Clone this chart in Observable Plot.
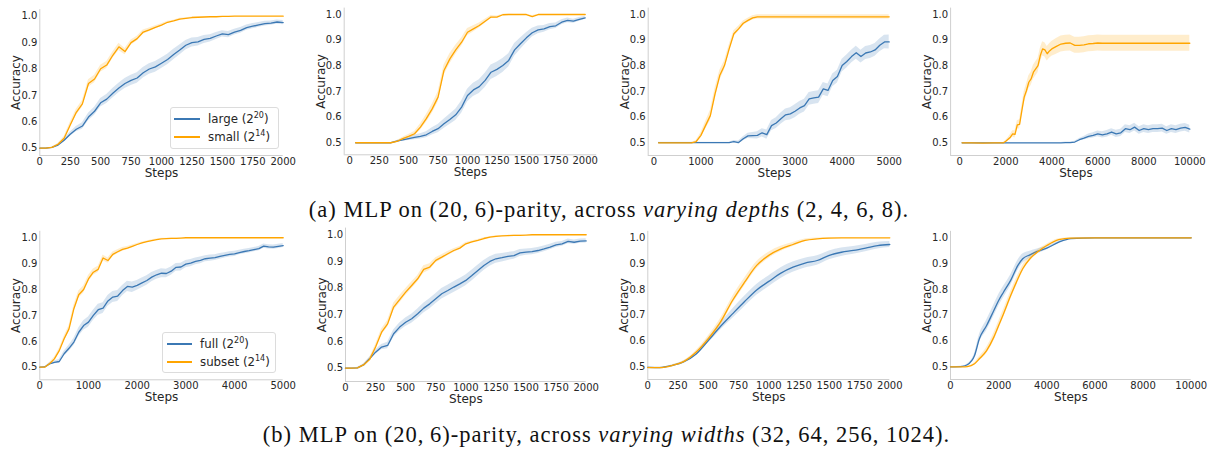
<!DOCTYPE html>
<html><head><meta charset="utf-8">
<script src="https://cdn.jsdelivr.net/npm/d3@7"></script>
<script src="https://cdn.jsdelivr.net/npm/@observablehq/plot@0.6"></script>
<style>
body{margin:0;background:#fff;}
#root{position:relative;width:1210px;height:450px;overflow:hidden;font-family:"DejaVu Sans",sans-serif;background:#fff;}
.panel{position:absolute;}
.panel svg{overflow:visible;}
.cap{position:absolute;font-family:"Liberation Serif",serif;font-size:22.5px;letter-spacing:1px;color:#111;white-space:nowrap;transform:translate(-50%,-50%);}
.legend{position:absolute;border:1px solid #dcdcdc;border-radius:3px;background:rgba(255,255,255,0.85);box-sizing:border-box;}
.lg-line{position:absolute;height:2px;}
.lg-text{position:absolute;font-family:"DejaVu Sans",sans-serif;font-size:11.8px;color:#262626;white-space:nowrap;transform:translateY(-50%);line-height:1;}
.lg-text sup{font-size:8px;vertical-align:5px;}
</style></head><body><div id="root"></div>
<script>
// ---------------- DATA ----------------
const blueColor = "#3b78b4";
const orangeColor = "#ffa500";
const yTicks = [0.5, 0.6, 0.7, 0.8, 0.9, 1.0];

const legendA = ["large (2", "20", ")", "small (2", "14", ")"];
const legendB = ["full (2", "20", ")", "subset (2", "14", ")"];
const captionA = "(a) MLP on (20,\u20096)-parity, across <i>varying depths</i> (2, 4, 6, 8).";
const captionB = "(b) MLP on (20,\u20096)-parity, across <i>varying widths</i> (32, 64, 256, 1024).";

// (a) depth 2
const a1Ticks = [0, 250, 500, 750, 1000, 1250, 1500, 1750, 2000];
const a1Steps = [0,50,100,150,200,250,300,350,400,450,500,550,600,650,700,750,800,850,900,950,1000,1050,1100,1150,1200,1250,1300,1350,1400,1450,1500,1550,1600,1650,1700,1750,1800,1850,1900,1950,2000];
const a1Large = [0.500,0.500,0.503,0.512,0.530,0.553,0.572,0.584,0.618,0.640,0.672,0.686,0.708,0.728,0.745,0.757,0.766,0.786,0.800,0.808,0.822,0.836,0.855,0.872,0.890,0.900,0.903,0.912,0.916,0.925,0.933,0.930,0.940,0.946,0.957,0.962,0.967,0.972,0.974,0.978,0.976];
const a1LargeSd = [0,0,0.002,0.004,0.006,0.008,0.01,0.012,0.014,0.015,0.016,0.017,0.018,0.018,0.019,0.019,0.02,0.02,0.02,0.02,0.02,0.02,0.02,0.019,0.018,0.017,0.016,0.015,0.014,0.013,0.012,0.012,0.011,0.011,0.01,0.01,0.009,0.009,0.008,0.008,0.008];
const a1Small = [0.500,0.500,0.503,0.515,0.538,0.588,0.636,0.668,0.745,0.762,0.801,0.815,0.852,0.884,0.866,0.900,0.915,0.940,0.948,0.958,0.966,0.977,0.982,0.989,0.992,0.995,0.996,0.997,0.998,0.998,0.999,0.999,1.0,1.0,1.0,1.0,1.0,1.0,1.0,1.0,1.0];
const a1SmallSd = [0,0,0.001,0.003,0.006,0.01,0.012,0.013,0.014,0.014,0.013,0.013,0.012,0.014,0.012,0.01,0.009,0.008,0.007,0.006,0.005,0.004,0.003,0.003,0.002,0.002,0.001,0.001,0.001,0.001,0,0,0,0,0,0,0,0,0,0,0];

// (a) depth 4
const a2Ticks = [0, 250, 500, 750, 1000, 1250, 1500, 1750, 2000];
const a2Steps = [50,100,150,200,250,300,350,400,450,500,550,600,650,700,750,800,850,900,950,1000,1050,1100,1150,1200,1250,1300,1350,1400,1450,1500,1550,1600,1650,1700,1750,1800,1850,1900,1950,2000];
const a2Large = [0.5,0.5,0.5,0.5,0.5,0.5,0.5,0.506,0.511,0.516,0.521,0.525,0.531,0.544,0.555,0.574,0.591,0.609,0.639,0.684,0.706,0.719,0.743,0.775,0.786,0.801,0.821,0.862,0.886,0.909,0.929,0.940,0.944,0.953,0.956,0.970,0.977,0.974,0.981,0.987];
const a2LargeSd = [0,0,0,0,0,0,0,0.003,0.005,0.007,0.009,0.01,0.012,0.014,0.016,0.018,0.02,0.022,0.024,0.025,0.026,0.027,0.028,0.028,0.028,0.027,0.026,0.025,0.022,0.02,0.017,0.015,0.013,0.012,0.011,0.01,0.009,0.008,0.007,0.006];
const a2Small = [0.5,0.5,0.5,0.5,0.5,0.5,0.5,0.505,0.516,0.525,0.535,0.561,0.594,0.632,0.678,0.782,0.827,0.862,0.892,0.931,0.944,0.957,0.974,0.990,0.990,0.999,1.0,1.0,1.0,1.0,0.992,1.0,1.0,1.0,1.0,1.0,1.0,1.0,1.0,1.0];
const a2SmallSd = [0,0,0,0,0,0,0,0.003,0.005,0.007,0.009,0.012,0.015,0.018,0.02,0.02,0.02,0.018,0.016,0.014,0.012,0.01,0.008,0.006,0.004,0.002,0.001,0,0,0,0.004,0,0,0,0,0,0,0,0,0];

// (a) depth 6
const a3Ticks = [0, 1000, 2000, 3000, 4000, 5000];
const a3Steps = [100,200,300,400,500,600,700,800,900,1000,1100,1200,1300,1400,1500,1600,1700,1800,1900,2000,2100,2200,2300,2400,2500,2600,2700,2800,2900,3000,3100,3200,3300,3400,3500,3600,3700,3800,3900,4000,4100,4200,4300,4400,4500,4600,4700,4800,4900,5000];
const a3Large = [0.501,0.501,0.501,0.501,0.501,0.501,0.501,0.501,0.501,0.501,0.501,0.501,0.501,0.501,0.501,0.501,0.505,0.501,0.516,0.527,0.528,0.529,0.539,0.532,0.567,0.577,0.594,0.609,0.613,0.623,0.636,0.645,0.671,0.675,0.678,0.710,0.704,0.743,0.758,0.801,0.817,0.836,0.851,0.836,0.850,0.854,0.862,0.880,0.893,0.893];
const a3LargeSd = [0.001,0.001,0.001,0.001,0.001,0.001,0.001,0.001,0.001,0.001,0.001,0.001,0.001,0.001,0.001,0.001,0.004,0.006,0.008,0.01,0.012,0.014,0.016,0.018,0.02,0.021,0.022,0.023,0.024,0.025,0.025,0.025,0.025,0.025,0.025,0.025,0.025,0.025,0.025,0.025,0.025,0.025,0.025,0.025,0.025,0.025,0.025,0.025,0.026,0.027];
const a3Small = [0.5,0.5,0.5,0.5,0.5,0.5,0.5,0.5,0.505,0.529,0.568,0.606,0.691,0.762,0.801,0.866,0.925,0.944,0.966,0.977,0.987,0.991,0.991,0.991,0.991,0.991,0.991,0.991,0.991,0.991,0.991,0.991,0.991,0.991,0.991,0.991,0.991,0.991,0.991,0.991,0.991,0.991,0.991,0.991,0.991,0.991,0.991,0.991,0.991,0.991];
const a3SmallSd = [0.001,0.001,0.001,0.001,0.001,0.001,0.001,0.001,0.004,0.01,0.015,0.02,0.022,0.02,0.018,0.015,0.012,0.01,0.009,0.008,0.008,0.008,0.008,0.008,0.008,0.008,0.008,0.008,0.008,0.008,0.008,0.008,0.008,0.008,0.008,0.008,0.008,0.008,0.008,0.008,0.008,0.008,0.008,0.008,0.008,0.008,0.008,0.008,0.008,0.008];

// (a) depth 8
const a4Ticks = [0, 2000, 4000, 6000, 8000, 10000];
const a4Steps = [100,500,1000,1500,1900,2000,2100,2200,2300,2400,2500,2600,2700,2800,2900,3000,3100,3200,3300,3400,3500,3600,3700,3800,3900,4000,4200,4400,4600,4800,5000,5200,5400,5600,5800,6000,6200,6400,6600,6800,7000,7200,7400,7600,7800,8000,8200,8400,8600,8800,9000,9200,9400,9600,9800,10000];
const a4Large = [0.5,0.5,0.5,0.5,0.5,0.5,0.5,0.5,0.5,0.5,0.5,0.5,0.5,0.5,0.5,0.5,0.5,0.5,0.5,0.5,0.5,0.5,0.5,0.5,0.5,0.5,0.500,0.500,0.501,0.501,0.503,0.512,0.518,0.525,0.529,0.535,0.531,0.535,0.542,0.535,0.539,0.555,0.551,0.561,0.548,0.555,0.551,0.555,0.555,0.557,0.548,0.555,0.551,0.557,0.560,0.553];
const a4LargeSd = [0.001,0.001,0.001,0.001,0.001,0.001,0.001,0.001,0.001,0.001,0.001,0.001,0.001,0.001,0.001,0.001,0.001,0.001,0.001,0.001,0.001,0.001,0.001,0.001,0.001,0.001,0.001,0.001,0.002,0.002,0.003,0.005,0.007,0.009,0.01,0.011,0.012,0.013,0.013,0.014,0.014,0.015,0.015,0.015,0.015,0.015,0.015,0.015,0.015,0.015,0.015,0.015,0.015,0.015,0.015,0.015];
const a4Small = [0.500,0.500,0.499,0.500,0.500,0.506,0.514,0.522,0.535,0.533,0.570,0.572,0.626,0.678,0.704,0.736,0.749,0.775,0.788,0.801,0.840,0.866,0.862,0.847,0.858,0.866,0.876,0.885,0.888,0.889,0.880,0.880,0.882,0.886,0.887,0.889,0.888,0.888,0.888,0.888,0.888,0.888,0.888,0.888,0.888,0.888,0.888,0.888,0.888,0.888,0.888,0.888,0.888,0.888,0.888,0.888];
const a4SmallSd = [0.001,0.001,0.001,0.001,0.001,0.003,0.006,0.01,0.012,0.014,0.016,0.018,0.02,0.022,0.024,0.025,0.026,0.027,0.028,0.028,0.028,0.028,0.028,0.028,0.028,0.029,0.031,0.031,0.031,0.031,0.031,0.031,0.031,0.031,0.031,0.031,0.031,0.031,0.031,0.031,0.031,0.031,0.031,0.031,0.031,0.031,0.031,0.031,0.031,0.031,0.031,0.031,0.031,0.031,0.031,0.031];

// (b) width 32
const b1Ticks = [0, 1000, 2000, 3000, 4000, 5000];
const b1Steps = [0,100,200,300,400,500,600,700,800,900,1000,1100,1200,1300,1400,1500,1600,1700,1800,1900,2000,2100,2200,2300,2400,2500,2600,2700,2800,2900,3000,3100,3200,3300,3400,3500,3600,3700,3800,3900,4000,4100,4200,4300,4400,4500,4600,4700,4800,4900,5000];
const b1Full = [0.500,0.501,0.513,0.519,0.522,0.552,0.573,0.597,0.635,0.661,0.674,0.700,0.722,0.728,0.756,0.771,0.775,0.796,0.812,0.809,0.816,0.826,0.835,0.848,0.857,0.863,0.862,0.871,0.886,0.887,0.898,0.902,0.909,0.913,0.919,0.921,0.923,0.928,0.932,0.936,0.938,0.943,0.947,0.950,0.954,0.958,0.968,0.965,0.964,0.967,0.970];
const b1FullSd = [0,0,0.004,0.006,0.008,0.01,0.012,0.014,0.016,0.018,0.02,0.02,0.021,0.021,0.021,0.021,0.021,0.02,0.02,0.02,0.019,0.019,0.018,0.018,0.017,0.017,0.016,0.016,0.015,0.015,0.014,0.014,0.013,0.013,0.012,0.012,0.011,0.011,0.01,0.01,0.01,0.009,0.009,0.009,0.008,0.008,0.008,0.008,0.008,0.008,0.008];
const b1Subset = [0.500,0.500,0.513,0.532,0.564,0.610,0.648,0.726,0.780,0.800,0.841,0.867,0.878,0.922,0.912,0.936,0.946,0.955,0.960,0.967,0.974,0.980,0.985,0.989,0.993,0.996,0.997,0.998,0.998,0.999,1.0,1.0,1.0,1.0,1.0,1.0,1.0,1.0,1.0,1.0,1.0,1.0,1.0,1.0,1.0,1.0,1.0,1.0,1.0,1.0,1.0];
const b1SubsetSd = [0,0,0.004,0.006,0.008,0.01,0.012,0.013,0.014,0.014,0.013,0.012,0.012,0.011,0.01,0.009,0.008,0.007,0.006,0.005,0.004,0.004,0.003,0.003,0.002,0.002,0.001,0.001,0.001,0.001,0,0,0,0,0,0,0,0,0,0,0,0,0,0,0,0,0,0,0,0,0];

// (b) width 64
const b2Ticks = [0, 250, 500, 750, 1000, 1250, 1500, 1750, 2000];
const b2Steps = [0,50,100,150,200,250,300,350,400,450,500,550,600,650,700,750,800,850,900,950,1000,1050,1100,1150,1200,1250,1300,1350,1400,1450,1500,1550,1600,1650,1700,1750,1800,1850,1900,1950,2000];
const b2Full = [0.500,0.500,0.501,0.512,0.535,0.560,0.579,0.585,0.629,0.654,0.672,0.685,0.704,0.725,0.741,0.760,0.779,0.791,0.804,0.816,0.829,0.847,0.866,0.885,0.900,0.910,0.914,0.919,0.922,0.932,0.935,0.937,0.941,0.947,0.954,0.962,0.966,0.975,0.972,0.976,0.977];
const b2FullSd = [0,0,0.002,0.004,0.006,0.008,0.01,0.012,0.014,0.015,0.016,0.017,0.018,0.018,0.019,0.019,0.02,0.02,0.02,0.02,0.02,0.02,0.02,0.019,0.018,0.017,0.016,0.015,0.014,0.013,0.012,0.012,0.011,0.011,0.01,0.01,0.009,0.009,0.008,0.008,0.008];
const b2Subset = [0.500,0.500,0.501,0.512,0.532,0.579,0.635,0.666,0.729,0.757,0.785,0.810,0.835,0.870,0.879,0.904,0.916,0.929,0.941,0.950,0.966,0.973,0.979,0.986,0.991,0.994,0.996,0.997,0.998,0.998,0.999,1.0,1.0,1.0,1.0,1.0,1.0,1.0,1.0,1.0,1.0];
const b2SubsetSd = [0,0,0.001,0.003,0.006,0.01,0.012,0.013,0.014,0.014,0.013,0.013,0.012,0.014,0.012,0.01,0.009,0.008,0.007,0.006,0.005,0.004,0.003,0.003,0.002,0.002,0.001,0.001,0.001,0.001,0,0,0,0,0,0,0,0,0,0,0];

// (b) width 256
const b3Ticks = [0, 250, 500, 750, 1000, 1250, 1500, 1750, 2000];
const b3Steps = [0,100,200,300,400,500,600,700,800,900,1000,1100,1200,1300,1400,1500,1600,1700,1800,1900,2000];
const b3Full = [0.498,0.497,0.505,0.520,0.550,0.602,0.656,0.705,0.753,0.798,0.831,0.863,0.886,0.902,0.912,0.932,0.944,0.951,0.960,0.970,0.974];
const b3FullSd = [0.002,0.002,0.002,0.003,0.006,0.01,0.014,0.018,0.02,0.021,0.021,0.021,0.02,0.019,0.018,0.017,0.016,0.015,0.014,0.013,0.012];
const b3Subset = [0.497,0.497,0.505,0.521,0.557,0.609,0.673,0.757,0.828,0.893,0.932,0.957,0.974,0.990,0.996,0.999,1.0,1.0,1.0,1.0,1.0];
const b3SubsetSd = [0.001,0.001,0.002,0.003,0.006,0.01,0.013,0.015,0.015,0.014,0.012,0.01,0.008,0.005,0.003,0.002,0.001,0.001,0,0,0];

// (b) width 1024
const b4Ticks = [0, 2000, 4000, 6000, 8000, 10000];
const b4Steps = [0,500,700,1000,1200,1500,1800,2000,2200,2500,2800,3000,3300,3600,4000,4500,5000,6000,7000,8000,9000,10000];
const b4Full = [0.500,0.502,0.508,0.544,0.609,0.660,0.718,0.757,0.789,0.835,0.893,0.919,0.934,0.947,0.960,0.983,0.997,1.0,1.0,1.0,1.0,1.0];
const b4FullSd = [0,0.001,0.003,0.008,0.015,0.02,0.022,0.022,0.022,0.021,0.02,0.018,0.014,0.01,0.007,0.004,0.002,0,0,0,0,0];
const b4Subset = [0.500,0.500,0.501,0.512,0.531,0.563,0.615,0.660,0.705,0.776,0.841,0.880,0.919,0.944,0.970,0.993,0.999,1.0,1.0,1.0,1.0,1.0];
const b4SubsetSd = [0,0,0.001,0.004,0.008,0.012,0.015,0.016,0.016,0.016,0.015,0.013,0.01,0.008,0.005,0.003,0.001,0,0,0,0,0];

// ---------------- LAYOUT ----------------
const panels = [
  {steps:a1Steps, blue:a1Large, blueSd:a1LargeSd, orange:a1Small, orangeSd:a1SmallSd, ticks:a1Ticks, curve:"linear",
   box:[0,0,300,190], px:[39.3,282.7], py:[155,9.1], xd:[0,2000], yd:[0.4724,1.025]},
  {steps:a2Steps, blue:a2Large, blueSd:a2LargeSd, orange:a2Small, orangeSd:a2SmallSd, ticks:a2Ticks, curve:"linear",
   box:[300,0,300,190], px:[343.7,596.2], py:[154.3,7.6], xd:[-47.5,2097.5], yd:[0.453,1.025]},
  {steps:a3Steps, blue:a3Large, blueSd:a3LargeSd, orange:a3Small, orangeSd:a3SmallSd, ticks:a3Ticks, curve:"linear",
   box:[600,0,300,190], px:[647.7,900], py:[155,7.6], xd:[-120,5240], yd:[0.4505,1.025]},
  {steps:a4Steps, blue:a4Large, blueSd:a4LargeSd, orange:a4Small, orangeSd:a4SmallSd, ticks:a4Ticks, curve:"linear",
   box:[900,0,310,190], px:[950.1,1200.8], py:[155,7.6], xd:[-400,10500], yd:[0.4505,1.025]},
  {steps:b1Steps, blue:b1Full, blueSd:b1FullSd, orange:b1Subset, orangeSd:b1SubsetSd, ticks:b1Ticks, curve:"linear",
   box:[0,225,300,190], px:[39.3,282.7], py:[379.3,230.8], xd:[0,5000], yd:[0.4513,1.025]},
  {steps:b2Steps, blue:b2Full, blueSd:b2FullSd, orange:b2Subset, orangeSd:b2SubsetSd, ticks:b2Ticks, curve:"linear",
   box:[300,225,300,190], px:[345,585.7], py:[381,227.6], xd:[0,2000], yd:[0.45,1.025]},
  {steps:b3Steps, blue:b3Full, blueSd:b3FullSd, orange:b3Subset, orangeSd:b3SubsetSd, ticks:b3Ticks, curve:"monotone-x",
   box:[600,225,300,190], px:[647.3,889.3], py:[379,230.85], xd:[0,2000], yd:[0.4508,1.025]},
  {steps:b4Steps, blue:b4Full, blueSd:b4FullSd, orange:b4Subset, orangeSd:b4SubsetSd, ticks:b4Ticks, curve:"monotone-x",
   box:[900,225,310,190], px:[950,1190.7], py:[379,230.85], xd:[0,10000], yd:[0.4508,1.025]}
];

const root = document.getElementById("root");
const spine = "#cfcfcf";

function rows(steps, ys, sds) {
  return steps.map((x, i) => ({x, y: ys[i], lo: ys[i] - sds[i], hi: ys[i] + sds[i]}));
}

for (const p of panels) {
  const [bx, by, bw, bh] = p.box;
  const blue = rows(p.steps, p.blue, p.blueSd);
  const orange = rows(p.steps, p.orange, p.orangeSd);
  const svg = Plot.plot({
    width: bw, height: bh,
    marginLeft: p.px[0] - bx, marginRight: bx + bw - p.px[1],
    marginTop: p.py[1] - by, marginBottom: by + bh - p.py[0],
    x: {domain: p.xd, ticks: p.ticks, tickSize: 0, tickPadding: 2.5, tickFormat: d => String(d), label: null},
    y: {domain: p.yd, ticks: yTicks, tickSize: 0, tickPadding: 2.5, tickFormat: d => d.toFixed(1), label: null},
    style: {fontFamily: "DejaVu Sans, sans-serif", fontSize: "10px", color: "#262626", background: "transparent", overflow: "visible"},
    marks: [
      Plot.ruleY([p.yd[0]], {stroke: spine, strokeWidth: 1}),
      Plot.ruleX([p.xd[0]], {stroke: spine, strokeWidth: 1}),
      Plot.areaY(blue, {x: "x", y1: "lo", y2: "hi", fill: blueColor, fillOpacity: 0.2, curve: p.curve}),
      Plot.lineY(blue, {x: "x", y: "y", stroke: blueColor, strokeWidth: 1.3, curve: p.curve}),
      Plot.areaY(orange, {x: "x", y1: "lo", y2: "hi", fill: orangeColor, fillOpacity: 0.2, curve: p.curve}),
      Plot.lineY(orange, {x: "x", y: "y", stroke: orangeColor, strokeWidth: 1.3, curve: p.curve}),
      Plot.text(["Steps"], {frameAnchor: "bottom", dy: 17.5, textAnchor: "middle", lineAnchor: "middle", fontSize: 12, fill: "#262626"}),
      Plot.text(["Accuracy"], {frameAnchor: "left", dx: -23.5, rotate: -90, textAnchor: "middle", lineAnchor: "middle", fontSize: 12, fill: "#262626"})
    ]
  });
  const div = document.createElement("div");
  div.className = "panel";
  div.style.left = bx + "px";
  div.style.top = by + "px";
  div.appendChild(svg);
  root.appendChild(div);
}

function addLegend(labels, box, lineX, textX, rowsY) {
  const lg = document.createElement("div");
  lg.className = "legend";
  lg.style.left = box[0] + "px"; lg.style.top = box[1] + "px";
  lg.style.width = box[2] + "px"; lg.style.height = box[3] + "px";
  root.appendChild(lg);
  [[blueColor, 0], [orangeColor, 3]].forEach(([c, k], i) => {
    const ln = document.createElement("div");
    ln.className = "lg-line";
    ln.style.left = lineX[0] + "px"; ln.style.width = (lineX[1] - lineX[0]) + "px";
    ln.style.top = Math.round(rowsY[i] - 1) + "px"; ln.style.background = c;
    root.appendChild(ln);
    const tx = document.createElement("div");
    tx.className = "lg-text";
    tx.style.left = textX + "px"; tx.style.top = rowsY[i] + "px";
    tx.innerHTML = labels[k] + "<sup>" + labels[k + 1] + "</sup>" + labels[k + 2];
    root.appendChild(tx);
  });
}
addLegend(legendA, [170, 107, 109, 42], [174, 200], 208, [119, 137]);
addLegend(legendB, [162, 332, 114, 41], [167, 192], 200, [343.5, 361.5]);

function addCaption(html, cx, cy) {
  const c = document.createElement("div");
  c.className = "cap";
  c.style.left = cx + "px"; c.style.top = cy + "px";
  c.innerHTML = html;
  root.appendChild(c);
}
addCaption(captionA, 609, 210);
addCaption(captionB, 606.5, 435);
</script>
</body></html>
